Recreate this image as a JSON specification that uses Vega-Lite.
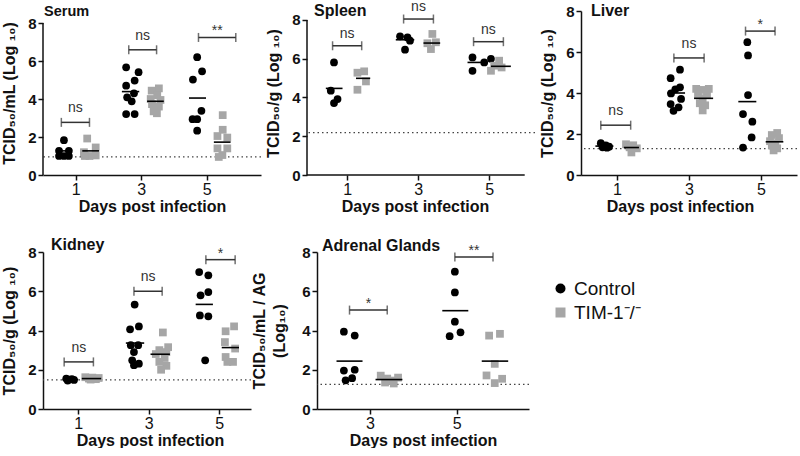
{
  "$schema": "https://vega.github.io/schema/vega-lite/v6.json",
  "padding": {"left": 1, "top": 0, "right": 0, "bottom": 0},
  "background": "white",
  "spacing": 23,
  "resolve": {"scale": {"x": "independent", "y": "independent"}},
  "datasets": {
    "pts": [
      {"p":"Serum","g":"Control","x":0.64,"y":1.83},{"p":"Serum","g":"Control","x":0.49,"y":1.27},{"p":"Serum","g":"Control","x":0.79,"y":1.27},{"p":"Serum","g":"Control","x":0.49,"y":1.0},{"p":"Serum","g":"Control","x":0.64,"y":1.0},{"p":"Serum","g":"Control","x":0.79,"y":1.0},
      {"p":"Serum","g":"TIM-1⁻/⁻","x":1.35,"y":1.92},{"p":"Serum","g":"TIM-1⁻/⁻","x":1.61,"y":1.45},{"p":"Serum","g":"TIM-1⁻/⁻","x":1.25,"y":1.2},{"p":"Serum","g":"TIM-1⁻/⁻","x":1.42,"y":1.0},{"p":"Serum","g":"TIM-1⁻/⁻","x":1.61,"y":1.03},{"p":"Serum","g":"TIM-1⁻/⁻","x":1.28,"y":1.0},
      {"p":"Serum","g":"Control","x":2.54,"y":5.67},{"p":"Serum","g":"Control","x":2.92,"y":5.41},{"p":"Serum","g":"Control","x":2.8,"y":4.97},{"p":"Serum","g":"Control","x":2.54,"y":4.7},{"p":"Serum","g":"Control","x":2.78,"y":4.3},{"p":"Serum","g":"Control","x":2.57,"y":4.09},{"p":"Serum","g":"Control","x":2.71,"y":3.88},{"p":"Serum","g":"Control","x":2.54,"y":3.21},{"p":"Serum","g":"Control","x":2.8,"y":3.21},
      {"p":"Serum","g":"TIM-1⁻/⁻","x":3.54,"y":4.56},{"p":"Serum","g":"TIM-1⁻/⁻","x":3.32,"y":4.44},{"p":"Serum","g":"TIM-1⁻/⁻","x":3.49,"y":4.2},{"p":"Serum","g":"TIM-1⁻/⁻","x":3.29,"y":4.0},{"p":"Serum","g":"TIM-1⁻/⁻","x":3.59,"y":3.95},{"p":"Serum","g":"TIM-1⁻/⁻","x":3.33,"y":3.73},{"p":"Serum","g":"TIM-1⁻/⁻","x":3.54,"y":3.6},{"p":"Serum","g":"TIM-1⁻/⁻","x":3.38,"y":3.35},{"p":"Serum","g":"TIM-1⁻/⁻","x":3.48,"y":3.25},
      {"p":"Serum","g":"Control","x":4.71,"y":6.2},{"p":"Serum","g":"Control","x":4.86,"y":5.46},{"p":"Serum","g":"Control","x":4.58,"y":5.02},{"p":"Serum","g":"Control","x":4.84,"y":3.38},{"p":"Serum","g":"Control","x":4.57,"y":2.94},{"p":"Serum","g":"Control","x":4.71,"y":2.94},{"p":"Serum","g":"Control","x":4.71,"y":2.33},
      {"p":"Serum","g":"TIM-1⁻/⁻","x":5.49,"y":3.15},{"p":"Serum","g":"TIM-1⁻/⁻","x":5.49,"y":2.38},{"p":"Serum","g":"TIM-1⁻/⁻","x":5.33,"y":2.05},{"p":"Serum","g":"TIM-1⁻/⁻","x":5.63,"y":1.97},{"p":"Serum","g":"TIM-1⁻/⁻","x":5.33,"y":1.4},{"p":"Serum","g":"TIM-1⁻/⁻","x":5.63,"y":1.4},{"p":"Serum","g":"TIM-1⁻/⁻","x":5.48,"y":1.05},{"p":"Serum","g":"TIM-1⁻/⁻","x":5.37,"y":0.95},

      {"p":"Spleen","g":"Control","x":0.63,"y":5.81},{"p":"Spleen","g":"Control","x":0.54,"y":4.35},{"p":"Spleen","g":"Control","x":0.73,"y":3.92},{"p":"Spleen","g":"Control","x":0.63,"y":3.71},
      {"p":"Spleen","g":"TIM-1⁻/⁻","x":1.29,"y":5.28},{"p":"Spleen","g":"TIM-1⁻/⁻","x":1.48,"y":5.35},{"p":"Spleen","g":"TIM-1⁻/⁻","x":1.53,"y":4.83},{"p":"Spleen","g":"TIM-1⁻/⁻","x":1.29,"y":4.4},
      {"p":"Spleen","g":"Control","x":2.49,"y":7.16},{"p":"Spleen","g":"Control","x":2.7,"y":7.1},{"p":"Spleen","g":"Control","x":2.77,"y":6.93},{"p":"Spleen","g":"Control","x":2.63,"y":6.47},
      {"p":"Spleen","g":"TIM-1⁻/⁻","x":3.4,"y":7.28},{"p":"Spleen","g":"TIM-1⁻/⁻","x":3.26,"y":6.8},{"p":"Spleen","g":"TIM-1⁻/⁻","x":3.5,"y":6.85},{"p":"Spleen","g":"TIM-1⁻/⁻","x":3.36,"y":6.5},
      {"p":"Spleen","g":"Control","x":4.53,"y":6.07},{"p":"Spleen","g":"Control","x":4.86,"y":5.81},{"p":"Spleen","g":"Control","x":5.05,"y":6.0},{"p":"Spleen","g":"Control","x":4.53,"y":5.38},
      {"p":"Spleen","g":"TIM-1⁻/⁻","x":5.28,"y":5.9},{"p":"Spleen","g":"TIM-1⁻/⁻","x":5.14,"y":5.64},{"p":"Spleen","g":"TIM-1⁻/⁻","x":5.35,"y":5.55},{"p":"Spleen","g":"TIM-1⁻/⁻","x":5.05,"y":5.38},

      {"p":"Liver","g":"Control","x":0.55,"y":1.55},{"p":"Liver","g":"Control","x":0.69,"y":1.45},{"p":"Liver","g":"Control","x":0.78,"y":1.38},{"p":"Liver","g":"Control","x":0.6,"y":1.35},{"p":"Liver","g":"Control","x":0.72,"y":1.33},
      {"p":"Liver","g":"TIM-1⁻/⁻","x":1.25,"y":1.5},{"p":"Liver","g":"TIM-1⁻/⁻","x":1.45,"y":1.45},{"p":"Liver","g":"TIM-1⁻/⁻","x":1.35,"y":1.35},{"p":"Liver","g":"TIM-1⁻/⁻","x":1.55,"y":1.3},{"p":"Liver","g":"TIM-1⁻/⁻","x":1.4,"y":1.1},
      {"p":"Liver","g":"Control","x":2.75,"y":5.14},{"p":"Liver","g":"Control","x":2.49,"y":4.72},{"p":"Liver","g":"Control","x":2.75,"y":4.28},{"p":"Liver","g":"Control","x":2.62,"y":4.18},{"p":"Liver","g":"Control","x":2.5,"y":3.98},{"p":"Liver","g":"Control","x":2.78,"y":3.71},{"p":"Liver","g":"Control","x":2.49,"y":3.46},{"p":"Liver","g":"Control","x":2.57,"y":3.13},{"p":"Liver","g":"Control","x":2.71,"y":3.3},
      {"p":"Liver","g":"TIM-1⁻/⁻","x":3.2,"y":4.2},{"p":"Liver","g":"TIM-1⁻/⁻","x":3.55,"y":4.2},{"p":"Liver","g":"TIM-1⁻/⁻","x":3.38,"y":4.15},{"p":"Liver","g":"TIM-1⁻/⁻","x":3.25,"y":3.95},{"p":"Liver","g":"TIM-1⁻/⁻","x":3.5,"y":3.9},{"p":"Liver","g":"TIM-1⁻/⁻","x":3.38,"y":3.75},{"p":"Liver","g":"TIM-1⁻/⁻","x":3.3,"y":3.5},{"p":"Liver","g":"TIM-1⁻/⁻","x":3.45,"y":3.4},{"p":"Liver","g":"TIM-1⁻/⁻","x":3.38,"y":3.15},
      {"p":"Liver","g":"Control","x":4.62,"y":6.48},{"p":"Liver","g":"Control","x":4.64,"y":5.83},{"p":"Liver","g":"Control","x":4.64,"y":3.9},{"p":"Liver","g":"Control","x":4.5,"y":2.97},{"p":"Liver","g":"Control","x":4.76,"y":2.6},{"p":"Liver","g":"Control","x":4.74,"y":1.83},{"p":"Liver","g":"Control","x":4.5,"y":1.34},
      {"p":"Liver","g":"TIM-1⁻/⁻","x":5.45,"y":2.05},{"p":"Liver","g":"TIM-1⁻/⁻","x":5.3,"y":1.95},{"p":"Liver","g":"TIM-1⁻/⁻","x":5.5,"y":1.8},{"p":"Liver","g":"TIM-1⁻/⁻","x":5.25,"y":1.65},{"p":"Liver","g":"TIM-1⁻/⁻","x":5.4,"y":1.55},{"p":"Liver","g":"TIM-1⁻/⁻","x":5.3,"y":1.45},{"p":"Liver","g":"TIM-1⁻/⁻","x":5.45,"y":1.3},{"p":"Liver","g":"TIM-1⁻/⁻","x":5.35,"y":1.2},

      {"p":"Kidney","g":"Control","x":0.66,"y":1.55},{"p":"Kidney","g":"Control","x":0.74,"y":1.5},{"p":"Kidney","g":"Control","x":0.82,"y":1.52},{"p":"Kidney","g":"Control","x":0.88,"y":1.48},{"p":"Kidney","g":"Control","x":0.7,"y":1.45},
      {"p":"Kidney","g":"TIM-1⁻/⁻","x":1.2,"y":1.62},{"p":"Kidney","g":"TIM-1⁻/⁻","x":1.3,"y":1.55},{"p":"Kidney","g":"TIM-1⁻/⁻","x":1.4,"y":1.6},{"p":"Kidney","g":"TIM-1⁻/⁻","x":1.5,"y":1.52},{"p":"Kidney","g":"TIM-1⁻/⁻","x":1.58,"y":1.58},{"p":"Kidney","g":"TIM-1⁻/⁻","x":1.35,"y":1.5},
      {"p":"Kidney","g":"Control","x":2.6,"y":5.32},{"p":"Kidney","g":"Control","x":2.72,"y":4.21},{"p":"Kidney","g":"Control","x":2.47,"y":4.06},{"p":"Kidney","g":"Control","x":2.49,"y":3.25},{"p":"Kidney","g":"Control","x":2.7,"y":3.25},{"p":"Kidney","g":"Control","x":2.58,"y":2.9},{"p":"Kidney","g":"Control","x":2.53,"y":2.48},{"p":"Kidney","g":"Control","x":2.72,"y":2.31},{"p":"Kidney","g":"Control","x":2.58,"y":2.23},
      {"p":"Kidney","g":"TIM-1⁻/⁻","x":3.4,"y":3.9},{"p":"Kidney","g":"TIM-1⁻/⁻","x":3.55,"y":3.15},{"p":"Kidney","g":"TIM-1⁻/⁻","x":3.3,"y":3.0},{"p":"Kidney","g":"TIM-1⁻/⁻","x":3.5,"y":2.9},{"p":"Kidney","g":"TIM-1⁻/⁻","x":3.2,"y":2.8},{"p":"Kidney","g":"TIM-1⁻/⁻","x":3.45,"y":2.6},{"p":"Kidney","g":"TIM-1⁻/⁻","x":3.3,"y":2.4},{"p":"Kidney","g":"TIM-1⁻/⁻","x":3.5,"y":2.2},{"p":"Kidney","g":"TIM-1⁻/⁻","x":3.35,"y":2.0},
      {"p":"Kidney","g":"Control","x":4.43,"y":6.98},{"p":"Kidney","g":"Control","x":4.69,"y":6.81},{"p":"Kidney","g":"Control","x":4.69,"y":5.96},{"p":"Kidney","g":"Control","x":4.47,"y":5.79},{"p":"Kidney","g":"Control","x":4.45,"y":4.77},{"p":"Kidney","g":"Control","x":4.69,"y":4.72},{"p":"Kidney","g":"Control","x":4.6,"y":2.48},
      {"p":"Kidney","g":"TIM-1⁻/⁻","x":5.42,"y":4.21},{"p":"Kidney","g":"TIM-1⁻/⁻","x":5.18,"y":3.96},{"p":"Kidney","g":"TIM-1⁻/⁻","x":5.16,"y":3.41},{"p":"Kidney","g":"TIM-1⁻/⁻","x":5.45,"y":3.08},{"p":"Kidney","g":"TIM-1⁻/⁻","x":5.18,"y":2.65},{"p":"Kidney","g":"TIM-1⁻/⁻","x":5.23,"y":2.4},{"p":"Kidney","g":"TIM-1⁻/⁻","x":5.39,"y":2.4},

      {"p":"Adrenal","g":"Control","x":2.4,"y":3.94},{"p":"Adrenal","g":"Control","x":2.65,"y":3.74},{"p":"Adrenal","g":"Control","x":2.4,"y":1.96},{"p":"Adrenal","g":"Control","x":2.65,"y":2.0},{"p":"Adrenal","g":"Control","x":2.59,"y":1.57},{"p":"Adrenal","g":"Control","x":2.44,"y":1.46},
      {"p":"Adrenal","g":"TIM-1⁻/⁻","x":3.25,"y":1.7},{"p":"Adrenal","g":"TIM-1⁻/⁻","x":3.4,"y":1.55},{"p":"Adrenal","g":"TIM-1⁻/⁻","x":3.5,"y":1.45},{"p":"Adrenal","g":"TIM-1⁻/⁻","x":3.65,"y":1.6},{"p":"Adrenal","g":"TIM-1⁻/⁻","x":3.35,"y":1.35},{"p":"Adrenal","g":"TIM-1⁻/⁻","x":3.55,"y":1.3},
      {"p":"Adrenal","g":"Control","x":4.96,"y":7.0},{"p":"Adrenal","g":"Control","x":4.96,"y":5.94},{"p":"Adrenal","g":"Control","x":4.96,"y":4.45},{"p":"Adrenal","g":"Control","x":5.09,"y":3.91},{"p":"Adrenal","g":"Control","x":4.84,"y":3.71},
      {"p":"Adrenal","g":"TIM-1⁻/⁻","x":5.75,"y":3.74},{"p":"Adrenal","g":"TIM-1⁻/⁻","x":6.0,"y":3.83},{"p":"Adrenal","g":"TIM-1⁻/⁻","x":5.88,"y":2.3},{"p":"Adrenal","g":"TIM-1⁻/⁻","x":5.69,"y":1.71},{"p":"Adrenal","g":"TIM-1⁻/⁻","x":6.05,"y":1.54},{"p":"Adrenal","g":"TIM-1⁻/⁻","x":5.88,"y":1.32}
    ],
    "means": [
      {"p":"Serum","x":0.4,"x2":0.85,"y":1.27},{"p":"Serum","x":1.2,"x2":1.71,"y":1.27},{"p":"Serum","x":2.41,"x2":2.94,"y":4.39},{"p":"Serum","x":3.18,"x2":3.69,"y":3.88},{"p":"Serum","x":4.46,"x2":4.98,"y":4.05},{"p":"Serum","x":5.22,"x2":5.73,"y":1.73},
      {"p":"Spleen","x":0.4,"x2":0.87,"y":4.47},{"p":"Spleen","x":1.25,"x2":1.65,"y":4.99},{"p":"Spleen","x":2.37,"x2":2.89,"y":6.98},{"p":"Spleen","x":3.15,"x2":3.62,"y":6.81},{"p":"Spleen","x":4.39,"x2":4.91,"y":5.81},{"p":"Spleen","x":5.05,"x2":5.61,"y":5.61},
      {"p":"Liver","x":0.4,"x2":0.9,"y":1.41},{"p":"Liver","x":1.19,"x2":1.61,"y":1.34},{"p":"Liver","x":2.4,"x2":2.89,"y":4.0},{"p":"Liver","x":3.14,"x2":3.67,"y":3.74},{"p":"Liver","x":4.37,"x2":4.87,"y":3.58},{"p":"Liver","x":5.13,"x2":5.62,"y":1.62},
      {"p":"Kidney","x":0.55,"x2":1.0,"y":1.5},{"p":"Kidney","x":1.1,"x2":1.65,"y":1.55},{"p":"Kidney","x":2.35,"x2":2.87,"y":3.36},{"p":"Kidney","x":3.05,"x2":3.6,"y":2.79},{"p":"Kidney","x":4.33,"x2":4.82,"y":5.33},{"p":"Kidney","x":5.07,"x2":5.56,"y":3.13},
      {"p":"Adrenal","x":2.23,"x2":2.83,"y":2.44},{"p":"Adrenal","x":3.13,"x2":3.75,"y":1.5},{"p":"Adrenal","x":4.67,"x2":5.27,"y":5.01},{"p":"Adrenal","x":5.58,"x2":6.19,"y":2.44}
    ],
    "br": [
      {"p":"Serum","x":0.56,"x2":1.42,"xm":0.99,"y":2.77,"t":"ns"},{"p":"Serum","x":2.62,"x2":3.47,"xm":3.045,"y":6.59,"t":"ns"},{"p":"Serum","x":4.75,"x2":5.89,"xm":5.32,"y":7.24,"t":"**"},
      {"p":"Spleen","x":0.59,"x2":1.41,"xm":1.0,"y":6.67,"t":"ns"},{"p":"Spleen","x":2.59,"x2":3.43,"xm":3.01,"y":8.05,"t":"ns"},{"p":"Spleen","x":4.56,"x2":5.4,"xm":4.98,"y":6.88,"t":"ns"},
      {"p":"Liver","x":0.55,"x2":1.38,"xm":0.965,"y":2.43,"t":"ns"},{"p":"Liver","x":2.58,"x2":3.42,"xm":3.0,"y":5.71,"t":"ns"},{"p":"Liver","x":4.57,"x2":5.39,"xm":4.98,"y":7.02,"t":"*"},
      {"p":"Kidney","x":0.6,"x2":1.43,"xm":1.015,"y":2.4,"t":"ns"},{"p":"Kidney","x":2.58,"x2":3.38,"xm":2.98,"y":6.0,"t":"ns"},{"p":"Kidney","x":4.62,"x2":5.45,"xm":5.035,"y":7.61,"t":"*"},
      {"p":"Adrenal","x":2.53,"x2":3.4,"xm":2.965,"y":5.04,"t":"*"},{"p":"Adrenal","x":4.96,"x2":5.84,"xm":5.4,"y":7.75,"t":"**"}
    ],
    "lod": [
      {"p":"Serum","y":0.95},{"p":"Spleen","y":2.19},{"p":"Liver","y":1.29},{"p":"Kidney","y":1.48},{"p":"Adrenal","y":1.25}
    ]
  },
  "vconcat": [
    {
      "bounds": "flush",
      "spacing": 46,
      "resolve": {"scale": {"x": "independent", "y": "independent"}},
      "hconcat": [
        {
          "width": 218, "height": 164,
          "layer": [
            {"data": {"name": "lod"}, "transform": [{"filter": "datum.p === 'Serum'"}], "mark": {"type": "rule", "strokeDash": [1.5, 3], "color": "#444", "strokeWidth": 1.3}, "encoding": {"y": {"field": "y", "type": "quantitative"}}},
            {"data": {"values": [{}]}, "mark": {"type": "rule", "color": "#111", "strokeWidth": 1.5}, "encoding": {"x": {"datum": 0, "type": "quantitative"}, "y": {"datum": 0, "type": "quantitative"}, "y2": {"datum": 8}}},
            {"data": {"name": "pts"}, "transform": [{"filter": "datum.p === 'Serum'"}], "mark": {"type": "point", "filled": true, "size": 60, "opacity": 1},
              "encoding": {
                "x": {"field": "x", "type": "quantitative", "scale": {"domain": [0, 6.66], "nice": false, "zero": false}, "axis": {"values": [1, 3, 5], "title": "Days post infection"}},
                "y": {"field": "y", "type": "quantitative", "scale": {"domain": [0, 8.632], "nice": false}, "axis": {"values": [0, 2, 4, 6, 8], "labelOverlap": false, "domain": false, "title": "TCID₅₀/mL (Log ₁₀)"}},
                "color": {"field": "g", "type": "nominal", "scale": {"domain": ["Control", "TIM-1⁻/⁻"], "range": ["#000000", "#a6a6a6"]}, "legend": {"title": null}},
                "shape": {"field": "g", "type": "nominal", "scale": {"domain": ["Control", "TIM-1⁻/⁻"], "range": ["circle", "square"]}, "legend": {"title": null}}
              }},
            {"data": {"name": "means"}, "transform": [{"filter": "datum.p === 'Serum'"}], "mark": {"type": "rule", "color": "#000", "strokeWidth": 1.6}, "encoding": {"x": {"field": "x", "type": "quantitative"}, "x2": {"field": "x2"}, "y": {"field": "y", "type": "quantitative"}}},
            {"data": {"name": "br"}, "transform": [{"filter": "datum.p === 'Serum'"}], "mark": {"type": "rule", "color": "#333", "strokeWidth": 1.5}, "encoding": {"x": {"field": "x", "type": "quantitative"}, "x2": {"field": "x2"}, "y": {"field": "y", "type": "quantitative"}}},
            {"data": {"name": "br"}, "transform": [{"filter": "datum.p === 'Serum'"}], "mark": {"type": "tick", "orient": "vertical", "size": 9, "thickness": 1.5, "color": "#333"}, "encoding": {"x": {"field": "x", "type": "quantitative"}, "y": {"field": "y", "type": "quantitative"}}},
            {"data": {"name": "br"}, "transform": [{"filter": "datum.p === 'Serum'"}], "mark": {"type": "tick", "orient": "vertical", "size": 9, "thickness": 1.5, "color": "#333"}, "encoding": {"x": {"field": "x2", "type": "quantitative"}, "y": {"field": "y", "type": "quantitative"}}},
            {"data": {"name": "br"}, "transform": [{"filter": "datum.p === 'Serum' && datum.t === 'ns'"}], "mark": {"type": "text", "fontSize": 14, "color": "#333", "baseline": "alphabetic", "dy": -10}, "encoding": {"x": {"field": "xm", "type": "quantitative"}, "y": {"field": "y", "type": "quantitative"}, "text": {"field": "t"}}},
            {"data": {"name": "br"}, "transform": [{"filter": "datum.p === 'Serum' && datum.t !== 'ns'"}], "mark": {"type": "text", "fontSize": 14, "color": "#333", "baseline": "middle", "dy": -6}, "encoding": {"x": {"field": "xm", "type": "quantitative"}, "y": {"field": "y", "type": "quantitative"}, "text": {"field": "t"}}},
            {"data": {"values": [{"name": "Serum"}]}, "mark": {"type": "text", "fontSize": 14.5, "fontWeight": "bold", "color": "#111", "align": "left", "baseline": "alphabetic", "dx": 1, "dy": -7}, "encoding": {"x": {"datum": 0, "type": "quantitative"}, "y": {"datum": 8, "type": "quantitative"}, "text": {"field": "name"}}}
          ]
        },
        {
          "width": 228, "height": 164,
          "layer": [
            {"data": {"name": "lod"}, "transform": [{"filter": "datum.p === 'Spleen'"}], "mark": {"type": "rule", "strokeDash": [1.5, 3], "color": "#444", "strokeWidth": 1.3}, "encoding": {"y": {"field": "y", "type": "quantitative"}}},
            {"data": {"values": [{}]}, "mark": {"type": "rule", "color": "#111", "strokeWidth": 1.5}, "encoding": {"x": {"datum": -0.13, "type": "quantitative"}, "y": {"datum": 0, "type": "quantitative"}, "y2": {"datum": 8}}},
            {"data": {"values": [{}]}, "mark": {"type": "rule", "color": "#111", "strokeWidth": 1.5}, "encoding": {"x": {"datum": -0.13, "type": "quantitative"}, "x2": {"datum": 6.0}, "y": {"datum": 0, "type": "quantitative"}}},
            {"data": {"name": "pts"}, "transform": [{"filter": "datum.p === 'Spleen'"}], "mark": {"type": "point", "filled": true, "size": 60, "opacity": 1},
              "encoding": {
                "x": {"field": "x", "type": "quantitative", "scale": {"domain": [-0.13, 6.29], "nice": false, "zero": false}, "axis": {"values": [1, 3, 5], "domain": false, "title": "Days post infection", "titleX": 108}},
                "y": {"field": "y", "type": "quantitative", "scale": {"domain": [0, 8.4645], "nice": false}, "axis": {"values": [0, 2, 4, 6, 8], "labelOverlap": false, "domain": false, "title": "TCID₅₀/g (Log ₁₀)"}},
                "color": {"field": "g", "type": "nominal", "scale": {"domain": ["Control", "TIM-1⁻/⁻"], "range": ["#000000", "#a6a6a6"]}, "legend": {"title": null}},
                "shape": {"field": "g", "type": "nominal", "scale": {"domain": ["Control", "TIM-1⁻/⁻"], "range": ["circle", "square"]}, "legend": {"title": null}}
              }},
            {"data": {"name": "means"}, "transform": [{"filter": "datum.p === 'Spleen'"}], "mark": {"type": "rule", "color": "#000", "strokeWidth": 1.6}, "encoding": {"x": {"field": "x", "type": "quantitative"}, "x2": {"field": "x2"}, "y": {"field": "y", "type": "quantitative"}}},
            {"data": {"name": "br"}, "transform": [{"filter": "datum.p === 'Spleen'"}], "mark": {"type": "rule", "color": "#333", "strokeWidth": 1.5}, "encoding": {"x": {"field": "x", "type": "quantitative"}, "x2": {"field": "x2"}, "y": {"field": "y", "type": "quantitative"}}},
            {"data": {"name": "br"}, "transform": [{"filter": "datum.p === 'Spleen'"}], "mark": {"type": "tick", "orient": "vertical", "size": 9, "thickness": 1.5, "color": "#333"}, "encoding": {"x": {"field": "x", "type": "quantitative"}, "y": {"field": "y", "type": "quantitative"}}},
            {"data": {"name": "br"}, "transform": [{"filter": "datum.p === 'Spleen'"}], "mark": {"type": "tick", "orient": "vertical", "size": 9, "thickness": 1.5, "color": "#333"}, "encoding": {"x": {"field": "x2", "type": "quantitative"}, "y": {"field": "y", "type": "quantitative"}}},
            {"data": {"name": "br"}, "transform": [{"filter": "datum.p === 'Spleen' && datum.t === 'ns'"}], "mark": {"type": "text", "fontSize": 14, "color": "#333", "baseline": "alphabetic", "dy": -8}, "encoding": {"x": {"field": "xm", "type": "quantitative"}, "y": {"field": "y", "type": "quantitative"}, "text": {"field": "t"}}},
            {"data": {"values": [{"name": "Spleen"}]}, "mark": {"type": "text", "fontSize": 16, "fontWeight": "bold", "color": "#111", "align": "left", "baseline": "alphabetic", "dx": 7, "dy": -4}, "encoding": {"x": {"datum": -0.13, "type": "quantitative"}, "y": {"datum": 8, "type": "quantitative"}, "text": {"field": "name"}}}
          ]
        },
        {
          "width": 216, "height": 164,
          "layer": [
            {"data": {"name": "lod"}, "transform": [{"filter": "datum.p === 'Liver'"}], "mark": {"type": "rule", "strokeDash": [1.5, 3], "color": "#444", "strokeWidth": 1.3}, "encoding": {"y": {"field": "y", "type": "quantitative"}}},
            {"data": {"name": "pts"}, "transform": [{"filter": "datum.p === 'Liver'"}], "mark": {"type": "point", "filled": true, "size": 60, "opacity": 1},
              "encoding": {
                "x": {"field": "x", "type": "quantitative", "scale": {"domain": [0, 6.0], "nice": false, "zero": false}, "axis": {"values": [1, 3, 5], "title": "Days post infection", "titleX": 99}},
                "y": {"field": "y", "type": "quantitative", "scale": {"domain": [0, 8], "nice": false}, "axis": {"values": [0, 2, 4, 6, 8], "labelOverlap": false, "title": "TCID₅₀/g (Log ₁₀)"}},
                "color": {"field": "g", "type": "nominal", "scale": {"domain": ["Control", "TIM-1⁻/⁻"], "range": ["#000000", "#a6a6a6"]}, "legend": {"title": null}},
                "shape": {"field": "g", "type": "nominal", "scale": {"domain": ["Control", "TIM-1⁻/⁻"], "range": ["circle", "square"]}, "legend": {"title": null}}
              }},
            {"data": {"name": "means"}, "transform": [{"filter": "datum.p === 'Liver'"}], "mark": {"type": "rule", "color": "#000", "strokeWidth": 1.6}, "encoding": {"x": {"field": "x", "type": "quantitative"}, "x2": {"field": "x2"}, "y": {"field": "y", "type": "quantitative"}}},
            {"data": {"name": "br"}, "transform": [{"filter": "datum.p === 'Liver'"}], "mark": {"type": "rule", "color": "#333", "strokeWidth": 1.5}, "encoding": {"x": {"field": "x", "type": "quantitative"}, "x2": {"field": "x2"}, "y": {"field": "y", "type": "quantitative"}}},
            {"data": {"name": "br"}, "transform": [{"filter": "datum.p === 'Liver'"}], "mark": {"type": "tick", "orient": "vertical", "size": 9, "thickness": 1.5, "color": "#333"}, "encoding": {"x": {"field": "x", "type": "quantitative"}, "y": {"field": "y", "type": "quantitative"}}},
            {"data": {"name": "br"}, "transform": [{"filter": "datum.p === 'Liver'"}], "mark": {"type": "tick", "orient": "vertical", "size": 9, "thickness": 1.5, "color": "#333"}, "encoding": {"x": {"field": "x2", "type": "quantitative"}, "y": {"field": "y", "type": "quantitative"}}},
            {"data": {"name": "br"}, "transform": [{"filter": "datum.p === 'Liver' && datum.t === 'ns'"}], "mark": {"type": "text", "fontSize": 14, "color": "#333", "baseline": "alphabetic", "dy": -10}, "encoding": {"x": {"field": "xm", "type": "quantitative"}, "y": {"field": "y", "type": "quantitative"}, "text": {"field": "t"}}},
            {"data": {"name": "br"}, "transform": [{"filter": "datum.p === 'Liver' && datum.t !== 'ns'"}], "mark": {"type": "text", "fontSize": 14, "color": "#333", "baseline": "middle", "dy": -6}, "encoding": {"x": {"field": "xm", "type": "quantitative"}, "y": {"field": "y", "type": "quantitative"}, "text": {"field": "t"}}},
            {"data": {"values": [{"name": "Liver"}]}, "mark": {"type": "text", "fontSize": 16, "fontWeight": "bold", "color": "#111", "align": "left", "baseline": "alphabetic", "dx": 10, "dy": 5}, "encoding": {"x": {"datum": 0, "type": "quantitative"}, "y": {"datum": 8, "type": "quantitative"}, "text": {"field": "name"}}}
          ]
        }
      ]
    },
    {
      "bounds": "flush",
      "spacing": 66,
      "resolve": {"scale": {"x": "independent", "y": "independent"}},
      "hconcat": [
        {
          "width": 208, "height": 157,
          "layer": [
            {"data": {"name": "lod"}, "transform": [{"filter": "datum.p === 'Kidney'"}], "mark": {"type": "rule", "strokeDash": [1.5, 3], "color": "#444", "strokeWidth": 1.3}, "encoding": {"y": {"field": "y", "type": "quantitative", "scale": {"domain": [0, 8], "nice": false}, "axis": {"values": [0, 2, 4, 6, 8], "tickCount": 5, "labelOverlap": false, "title": "TCID₅₀/g (Log ₁₀)"}}}},
            {"data": {"name": "pts"}, "transform": [{"filter": "datum.p === 'Kidney'"}], "mark": {"type": "point", "filled": true, "size": 60, "opacity": 1},
              "encoding": {
                "x": {"field": "x", "type": "quantitative", "scale": {"domain": [0, 5.9], "nice": false, "zero": false}, "axis": {"values": [1, 3, 5], "title": "Days post infection", "titleX": 107}},
                "y": {"field": "y", "type": "quantitative", "scale": {"domain": [0, 8], "nice": false}, "axis": {"values": [0, 2, 4, 6, 8], "tickCount": 5, "labelOverlap": false, "title": "TCID₅₀/g (Log ₁₀)"}},
                "color": {"field": "g", "type": "nominal", "scale": {"domain": ["Control", "TIM-1⁻/⁻"], "range": ["#000000", "#a6a6a6"]}, "legend": {"title": null}},
                "shape": {"field": "g", "type": "nominal", "scale": {"domain": ["Control", "TIM-1⁻/⁻"], "range": ["circle", "square"]}, "legend": {"title": null}}
              }},
            {"data": {"name": "means"}, "transform": [{"filter": "datum.p === 'Kidney'"}], "mark": {"type": "rule", "color": "#000", "strokeWidth": 1.6}, "encoding": {"x": {"field": "x", "type": "quantitative"}, "x2": {"field": "x2"}, "y": {"field": "y", "type": "quantitative"}}},
            {"data": {"name": "br"}, "transform": [{"filter": "datum.p === 'Kidney'"}], "mark": {"type": "rule", "color": "#333", "strokeWidth": 1.5}, "encoding": {"x": {"field": "x", "type": "quantitative"}, "x2": {"field": "x2"}, "y": {"field": "y", "type": "quantitative"}}},
            {"data": {"name": "br"}, "transform": [{"filter": "datum.p === 'Kidney'"}], "mark": {"type": "tick", "orient": "vertical", "size": 9, "thickness": 1.5, "color": "#333"}, "encoding": {"x": {"field": "x", "type": "quantitative"}, "y": {"field": "y", "type": "quantitative"}}},
            {"data": {"name": "br"}, "transform": [{"filter": "datum.p === 'Kidney'"}], "mark": {"type": "tick", "orient": "vertical", "size": 9, "thickness": 1.5, "color": "#333"}, "encoding": {"x": {"field": "x2", "type": "quantitative"}, "y": {"field": "y", "type": "quantitative"}}},
            {"data": {"name": "br"}, "transform": [{"filter": "datum.p === 'Kidney' && datum.t === 'ns'"}], "mark": {"type": "text", "fontSize": 14, "color": "#333", "baseline": "alphabetic", "dy": -10}, "encoding": {"x": {"field": "xm", "type": "quantitative"}, "y": {"field": "y", "type": "quantitative"}, "text": {"field": "t"}}},
            {"data": {"name": "br"}, "transform": [{"filter": "datum.p === 'Kidney' && datum.t !== 'ns'"}], "mark": {"type": "text", "fontSize": 14, "color": "#333", "baseline": "middle", "dy": -6}, "encoding": {"x": {"field": "xm", "type": "quantitative"}, "y": {"field": "y", "type": "quantitative"}, "text": {"field": "t"}}},
            {"data": {"values": [{"name": "Kidney"}]}, "mark": {"type": "text", "fontSize": 16, "fontWeight": "bold", "color": "#111", "align": "left", "baseline": "alphabetic", "dx": 8, "dy": -2}, "encoding": {"x": {"datum": 0, "type": "quantitative"}, "y": {"datum": 8, "type": "quantitative"}, "text": {"field": "name"}}}
          ]
        },
        {
          "width": 212, "height": 157,
          "layer": [
            {"data": {"name": "lod"}, "transform": [{"filter": "datum.p === 'Adrenal'"}], "mark": {"type": "rule", "strokeDash": [1.5, 3], "color": "#444", "strokeWidth": 1.3}, "encoding": {"y": {"field": "y", "type": "quantitative", "scale": {"domain": [0, 8], "nice": false}, "axis": {"values": [0, 2, 4, 6, 8], "tickCount": 5, "labelOverlap": false, "title": ["TCID₅₀/mL / AG", "(Log₁₀)"], "titlePadding": 14, "titleLineHeight": 20}}}},
            {"data": {"name": "pts"}, "transform": [{"filter": "datum.p === 'Adrenal'"}], "mark": {"type": "point", "filled": true, "size": 60, "opacity": 1},
              "encoding": {
                "x": {"field": "x", "type": "quantitative", "scale": {"domain": [1.78, 6.67], "nice": false, "zero": false}, "axis": {"values": [3, 5], "title": "Days post infection"}},
                "y": {"field": "y", "type": "quantitative", "scale": {"domain": [0, 8], "nice": false}, "axis": {"values": [0, 2, 4, 6, 8], "tickCount": 5, "labelOverlap": false, "title": ["TCID₅₀/mL / AG", "(Log₁₀)"], "titlePadding": 14, "titleLineHeight": 20}},
                "color": {"field": "g", "type": "nominal", "scale": {"domain": ["Control", "TIM-1⁻/⁻"], "range": ["#000000", "#a6a6a6"]}, "legend": {"title": null}},
                "shape": {"field": "g", "type": "nominal", "scale": {"domain": ["Control", "TIM-1⁻/⁻"], "range": ["circle", "square"]}, "legend": {"title": null}}
              }},
            {"data": {"name": "means"}, "transform": [{"filter": "datum.p === 'Adrenal'"}], "mark": {"type": "rule", "color": "#000", "strokeWidth": 1.6}, "encoding": {"x": {"field": "x", "type": "quantitative"}, "x2": {"field": "x2"}, "y": {"field": "y", "type": "quantitative"}}},
            {"data": {"name": "br"}, "transform": [{"filter": "datum.p === 'Adrenal'"}], "mark": {"type": "rule", "color": "#333", "strokeWidth": 1.5}, "encoding": {"x": {"field": "x", "type": "quantitative"}, "x2": {"field": "x2"}, "y": {"field": "y", "type": "quantitative"}}},
            {"data": {"name": "br"}, "transform": [{"filter": "datum.p === 'Adrenal'"}], "mark": {"type": "tick", "orient": "vertical", "size": 9, "thickness": 1.5, "color": "#333"}, "encoding": {"x": {"field": "x", "type": "quantitative"}, "y": {"field": "y", "type": "quantitative"}}},
            {"data": {"name": "br"}, "transform": [{"filter": "datum.p === 'Adrenal'"}], "mark": {"type": "tick", "orient": "vertical", "size": 9, "thickness": 1.5, "color": "#333"}, "encoding": {"x": {"field": "x2", "type": "quantitative"}, "y": {"field": "y", "type": "quantitative"}}},
            {"data": {"name": "br"}, "transform": [{"filter": "datum.p === 'Adrenal' && datum.t !== 'ns'"}], "mark": {"type": "text", "fontSize": 14, "color": "#333", "baseline": "middle", "dy": -6}, "encoding": {"x": {"field": "xm", "type": "quantitative"}, "y": {"field": "y", "type": "quantitative"}, "text": {"field": "t"}}},
            {"data": {"values": [{"name": "Adrenal Glands"}]}, "mark": {"type": "text", "fontSize": 16, "fontWeight": "bold", "color": "#111", "align": "left", "baseline": "alphabetic", "dx": 5, "dy": -1}, "encoding": {"x": {"datum": 1.78, "type": "quantitative"}, "y": {"datum": 8, "type": "quantitative"}, "text": {"field": "name"}}}
          ]
        }
      ]
    }
  ],
  "config": {
    "font": "Liberation Sans",
    "view": {"stroke": null},
    "axis": {"domainColor": "#111", "domainWidth": 1.5, "tickColor": "#111", "tickWidth": 1.5, "tickSize": 5, "grid": false, "labelFont": "Liberation Sans", "titleFont": "Liberation Sans", "labelColor": "#111", "titleColor": "#111", "titleFontWeight": "bold", "titleFontSize": 16, "labelFlush": false, "labelOverlap": false},
    "axisX": {"labelFontSize": 16, "labelPadding": 1, "titlePadding": 1},
    "axisY": {"labelFontSize": 15, "labelFontWeight": "bold", "labelPadding": 2, "titlePadding": 10},
    "legend": {"orient": "none", "legendX": 508, "legendY": 268, "labelFont": "Liberation Sans", "labelFontSize": 19, "labelColor": "#111", "symbolSize": 100, "rowPadding": 4, "labelOffset": 4, "symbolStrokeWidth": 0},
    "text": {"font": "Liberation Sans"}
  }
}
